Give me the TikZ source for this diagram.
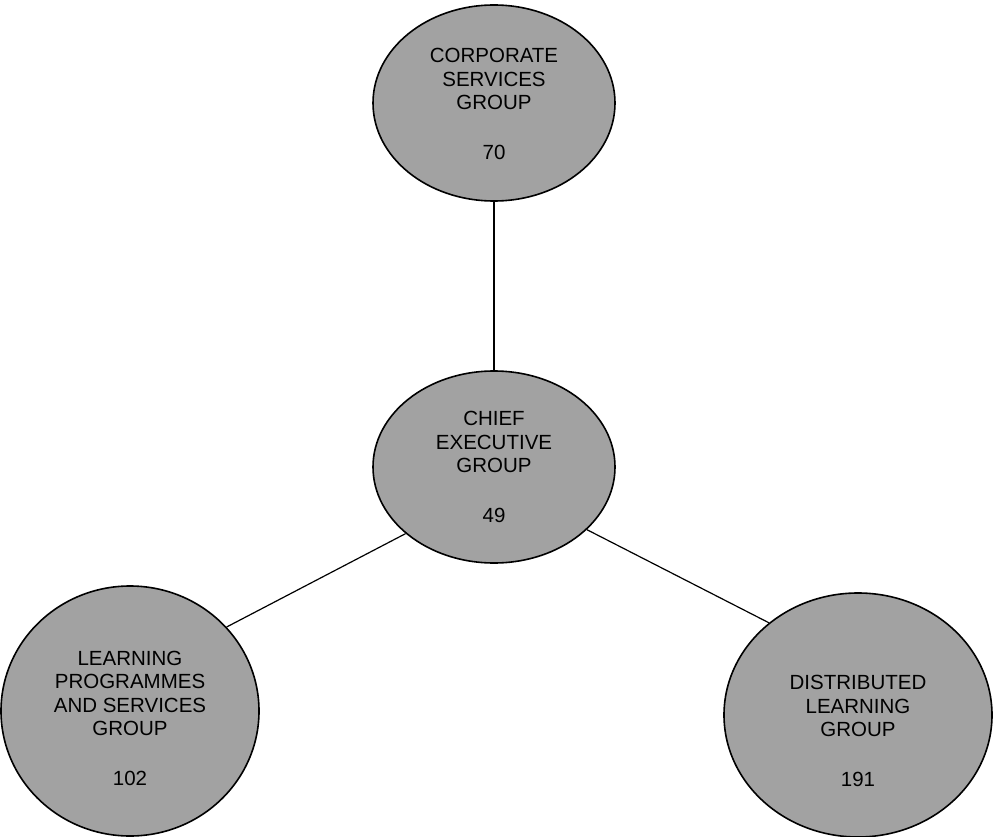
\documentclass[tikz,border=0pt]{standalone}
\usepackage{fontspec}
\setmainfont{Liberation Sans}
\usetikzlibrary{shapes.geometric}
\definecolor{ellfill}{RGB}{162,162,162}
\tikzset{
  grp/.style={ellipse, draw=black, line width=1.6pt, fill=ellfill, inner sep=0pt},
  lbl/.style={align=center, inner sep=0pt, font=\fontsize{20.5}{23.5}\selectfont},
  link/.style={draw=black, line width=1.2pt}
}
\begin{document}
\begin{tikzpicture}[x=1pt, y=-1pt]
\useasboundingbox (0,0) rectangle (993,837);
% ellipses
\node[grp, minimum width=242pt, minimum height=196pt] (corp) at (494,103) {};
\node[grp, minimum width=242pt, minimum height=192pt] (chief) at (494,467) {};
\node[grp, minimum width=258pt, minimum height=250pt] (lps) at (130,711) {};
\node[grp, minimum width=268pt, minimum height=244pt] (dlg) at (858,715) {};
% connectors
\draw[link] (corp.south) -- (chief.north);
\draw[link] (chief.217) -- (lps.41.5);
\draw[link] (chief.326) -- (dlg.134.4);
% labels
\node[lbl] (corpT) at (494,104) {CORPORATE\\SERVICES\\GROUP\\[26pt]70};
\node[lbl] (chiefT) at (494,467) {CHIEF\\EXECUTIVE\\GROUP\\[26pt]49};
\node[lbl] (lpsT) at (130,718) {LEARNING\\PROGRAMMES\\AND SERVICES\\GROUP\\[26pt]102};
\node[lbl] (dlgT) at (858,731) {DISTRIBUTED\\LEARNING\\GROUP\\[26pt]191};
\end{tikzpicture}
\end{document}
